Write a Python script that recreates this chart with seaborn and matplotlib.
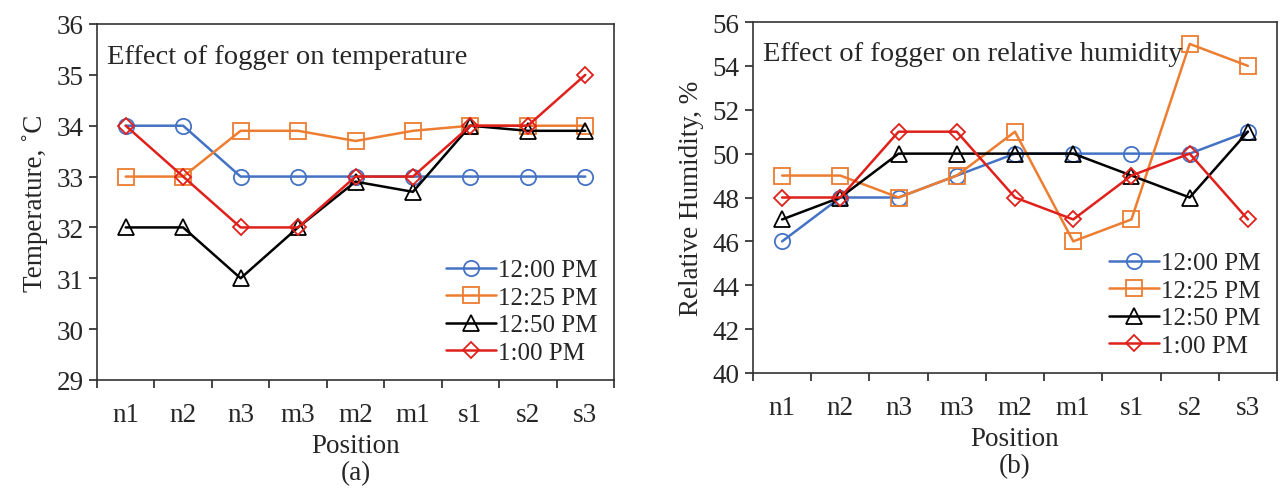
import numpy as np
import pandas as pd
import matplotlib
matplotlib.use("Agg")
import matplotlib.pyplot as plt
import seaborn as sns

positions = ["n1", "n2", "n3", "m3", "m2", "m1", "s1", "s2", "s3"]
times = ["12:00 PM", "12:25 PM", "12:50 PM", "1:00 PM"]

temp_1200 = [34, 34, 33, 33, 33, 33, 33, 33, 33]
temp_1225 = [33, 33, 33.9, 33.9, 33.7, 33.9, 34, 34, 34]
temp_1250 = [32, 32, 31, 32, 32.9, 32.7, 34, 33.9, 33.9]
temp_0100 = [34, 33, 32, 32, 33, 33, 34, 34, 35]

rh_1200 = [46, 48, 48, 49, 50, 50, 50, 50, 51]
rh_1225 = [49, 49, 48, 49, 51, 46, 47, 55, 54]
rh_1250 = [47, 48, 50, 50, 50, 50, 49, 48, 51]
rh_0100 = [48, 48, 51, 51, 48, 47, 49, 50, 47]

colors = ["#4472C4", "#ED7D31", "#000000", "#E0201B"]
markers = ["o", "s", "^", "D"]
msizes = [11, 11, 11, 8]


def long_form(series):
    rows = []
    for t, vals in zip(times, series):
        for i, v in enumerate(vals):
            rows.append({"pos": i, "time": t, "val": v})
    return pd.DataFrame(rows)


sns.set_style("ticks")
plt.rcParams["font.family"] = ["Liberation Serif", "DejaVu Serif"]
plt.rcParams["axes.linewidth"] = 1.2

fig = plt.figure(figsize=(12.82, 4.89), dpi=100)
ax1 = fig.add_axes([97 / 1282, 1 - 381 / 489, 517 / 1282, 356 / 489])
ax2 = fig.add_axes([753 / 1282, 1 - 374 / 489, 524 / 1282, 351 / 489])


def draw(ax, series, ylim, step, ylabel, title, tag):
    df = long_form(series)
    sns.lineplot(data=df, x="pos", y="val", hue="time", style="time",
                 palette=colors, markers=markers, dashes=False,
                 hue_order=times, style_order=times, legend=False,
                 ax=ax, linewidth=1.8)
    for line, c, ms in zip(ax.lines, colors, msizes):
        line.set_markerfacecolor("none")
        line.set_markeredgecolor(c)
        line.set_markeredgewidth(1.3)
        line.set_markersize(ms)
    ax.set_xlim(-0.5, 8.5)
    ax.set_ylim(*ylim)
    ax.set_yticks(np.arange(ylim[0], ylim[1] + 0.01, step))
    ax.set_xticks(range(len(positions)))
    ax.set_xticklabels(positions)
    ax.set_xticks(np.arange(-0.5, 9, 1), minor=True)
    ax.tick_params(axis="x", which="major", length=0, pad=16, labelsize=19.5)
    ax.tick_params(axis="x", which="minor", length=6, width=1.2, direction="out")
    ax.tick_params(axis="y", length=6, width=1.2, direction="out", labelsize=19.5)
    ax.set_xlabel("Position\n" + tag, fontsize=19.5, labelpad=4, linespacing=1.1)
    ax.set_ylabel(ylabel, fontsize=19.5, labelpad=6)
    ax.text(0.02, 0.91, title, transform=ax.transAxes, fontsize=20.5,
            va="center", ha="left")
    ax.legend(ax.lines, times, frameon=False, fontsize=18,
              loc="lower right", handlelength=2.0, handletextpad=0.1,
              labelspacing=0.2, borderaxespad=0.25)
    for s in ax.spines.values():
        s.set_visible(True)
        s.set_color("#333333")


draw(ax1, [temp_1200, temp_1225, temp_1250, temp_0100], (29, 36), 1,
     "Temperature, ˚C", "Effect of fogger on temperature", "(a)")
draw(ax2, [rh_1200, rh_1225, rh_1250, rh_0100], (40, 56), 2,
     "Relative Humidity, %", "Effect of fogger on relative humidity", "(b)")

fig.savefig("out.png", dpi=100)
